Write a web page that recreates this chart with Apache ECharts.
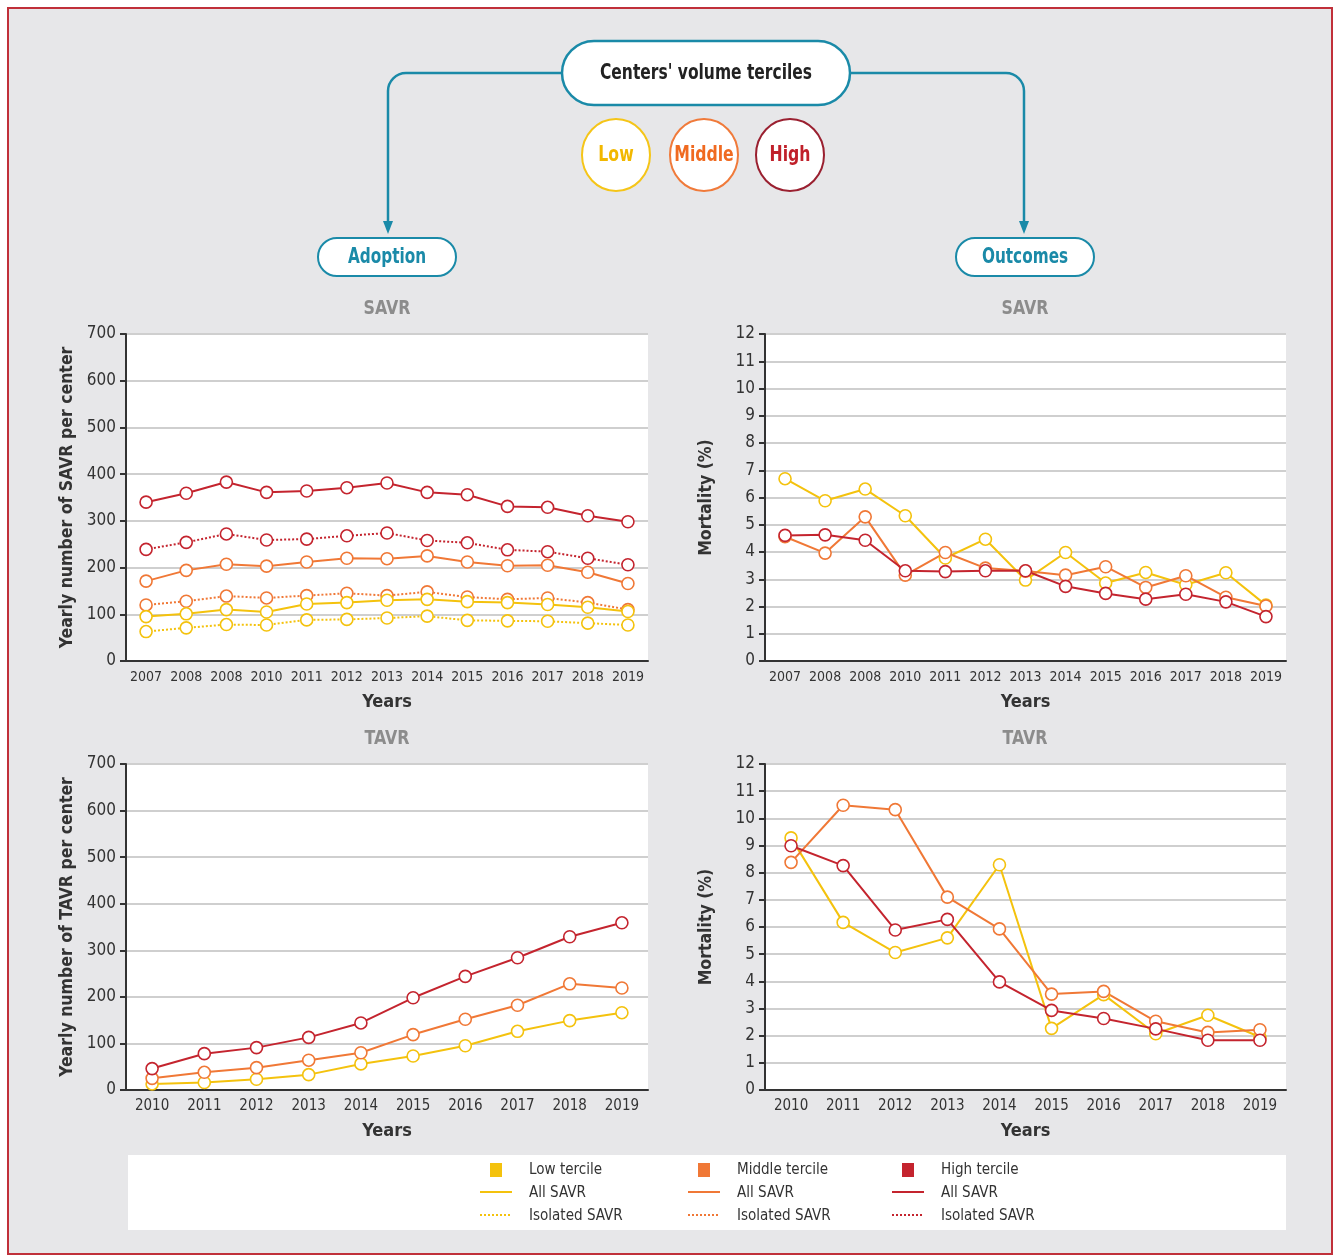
<!DOCTYPE html>
<html>
<head>
<meta charset="utf-8">
<script src="https://cdn.jsdelivr.net/npm/echarts@6/dist/echarts.min.js"></script>
<style>
  html, body { margin: 0; padding: 0; background: #fff; }
  #chart { width: 1337px; height: 1260px; }
</style>
</head>
<body>
<div id="chart"></div>
<script>
// categories
var savrYears = ['2007', '2008', '2008', '2010', '2011', '2012', '2013', '2014', '2015', '2016', '2017', '2018', '2019'];
var tavrYears = ['2010', '2011', '2012', '2013', '2014', '2015', '2016', '2017', '2018', '2019'];

// SAVR adoption (yearly number per center)
var savrAllLow   = [95, 101, 110, 105, 122, 125, 130, 132, 127, 125, 121, 115, 106];
var savrAllMid   = [171, 194, 207, 203, 212, 220, 219, 225, 212, 204, 205, 190, 166];
var savrAllHigh  = [340, 359, 383, 361, 364, 371, 381, 361, 356, 331, 329, 311, 298];
var savrIsoLow   = [63, 71, 78, 77, 88, 89, 92, 96, 87, 86, 85, 81, 77];
var savrIsoMid   = [120, 128, 139, 135, 140, 145, 140, 148, 137, 132, 135, 125, 110];
var savrIsoHigh  = [239, 254, 272, 259, 261, 268, 274, 258, 253, 238, 234, 220, 206];

// SAVR outcomes (mortality %)
var savrMortLow  = [6.69, 5.88, 6.31, 5.33, 3.78, 4.47, 2.97, 3.98, 2.86, 3.25, 2.80, 3.24, 2.05];
var savrMortMid  = [4.56, 3.96, 5.29, 3.15, 3.98, 3.41, 3.30, 3.15, 3.46, 2.70, 3.13, 2.34, 2.02];
var savrMortHigh = [4.61, 4.63, 4.43, 3.31, 3.28, 3.31, 3.31, 2.74, 2.48, 2.27, 2.45, 2.17, 1.63];

// TAVR adoption
var tavrLow  = [13, 16, 23, 33, 56, 73, 95, 126, 149, 166];
var tavrMid  = [25, 38, 48, 64, 80, 119, 152, 182, 228, 219];
var tavrHigh = [46, 78, 91, 113, 144, 198, 244, 284, 329, 359];

// TAVR outcomes
var tavrMortLow  = [9.28, 6.17, 5.06, 5.60, 8.29, 2.27, 3.51, 2.07, 2.75, 1.95];
var tavrMortMid  = [8.38, 10.48, 10.32, 7.10, 5.93, 3.53, 3.63, 2.53, 2.12, 2.22];
var tavrMortHigh = [8.99, 8.26, 5.89, 6.28, 3.98, 2.93, 2.63, 2.25, 1.83, 1.83];

var tercileNames = ['Low tercile', 'Middle tercile', 'High tercile'];
var colors = ['#f4c20d', '#f07836', '#c4242e'];

var FONT = "'DejaVu Sans Condensed', 'Liberation Sans', sans-serif";
var TEAL = '#1a8aa8';

var grids = [
  { left: 126, top: 334, width: 522, height: 327 },
  { left: 765, top: 334, width: 521, height: 327 },
  { left: 126, top: 764, width: 522, height: 326 },
  { left: 765, top: 764, width: 521, height: 326 }
];

function xAxisFor(gi, cats, fs) {
  return {
    type: 'category', gridIndex: gi, data: cats,
    name: 'Years', nameLocation: 'middle', nameGap: 32,
    nameTextStyle: { fontFamily: FONT, fontWeight: 'bold', fontSize: 18, color: '#333' },
    axisLine: { lineStyle: { color: '#333', width: 2 } },
    axisTick: { length: 6, lineStyle: { color: '#333', width: 2 } },
    axisLabel: { interval: 0, fontFamily: FONT, fontSize: fs, color: '#333', margin: 9 },
    splitLine: { show: false }
  };
}
function yAxisFor(gi, max, interval, name) {
  return {
    type: 'value', gridIndex: gi, min: 0, max: max, interval: interval,
    name: name, nameLocation: 'middle', nameGap: 50, nameRotate: 90,
    nameTextStyle: { fontFamily: FONT, fontWeight: 'bold', fontSize: 17.5, color: '#333' },
    axisLine: { show: true, lineStyle: { color: '#333', width: 2 } },
    axisTick: { show: true, length: 6, lineStyle: { color: '#333', width: 2 } },
    axisLabel: { fontFamily: FONT, fontSize: 17, color: '#333', margin: 10 },
    splitLine: { lineStyle: { color: '#cfcfcf', width: 2 } }
  };
}
function line(gi, data, ci, dotted) {
  return {
    type: 'line', xAxisIndex: gi, yAxisIndex: gi, data: data,
    symbol: 'circle', symbolSize: 12, showAllSymbol: true,
    lineStyle: { color: colors[ci], width: 2, type: dotted ? 'dotted' : 'solid' },
    itemStyle: { color: '#fff', borderColor: colors[ci], borderWidth: 1.6 },
    z: dotted ? 2 : 3
  };
}
function label(x, y, txt, fs, color, sx) {
  return { type: 'text', x: x, y: y, scaleX: sx, style: { text: txt, fontFamily: FONT, fontWeight: 'bold', fontSize: fs, fill: color, align: 'center', verticalAlign: 'middle' } };
}

var graphics = [
  // frame
  { type: 'rect', shape: { x: 8, y: 8, width: 1324, height: 1246 }, style: { fill: '#e7e7e9', stroke: '#c0303a', lineWidth: 2 }, z: -10 },
  // connectors
  { type: 'polyline', shape: { points: [[562, 73], [406, 73]] }, style: { fill: null, stroke: TEAL, lineWidth: 2.5 } },
  { type: 'arc', shape: { cx: 406, cy: 91, r: 18, startAngle: Math.PI, endAngle: Math.PI * 1.5 }, style: { fill: null, stroke: TEAL, lineWidth: 2.5 } },
  { type: 'polyline', shape: { points: [[388, 91], [388, 224]] }, style: { fill: null, stroke: TEAL, lineWidth: 2.5 } },
  { type: 'polyline', shape: { points: [[850, 73], [1006, 73]] }, style: { fill: null, stroke: TEAL, lineWidth: 2.5 } },
  { type: 'arc', shape: { cx: 1006, cy: 91, r: 18, startAngle: Math.PI * 1.5, endAngle: Math.PI * 2 }, style: { fill: null, stroke: TEAL, lineWidth: 2.5 } },
  { type: 'polyline', shape: { points: [[1024, 91], [1024, 224]] }, style: { fill: null, stroke: TEAL, lineWidth: 2.5 } },
  { type: 'polygon', shape: { points: [[383, 221], [393, 221], [388, 234]] }, style: { fill: TEAL } },
  { type: 'polygon', shape: { points: [[1019, 221], [1029, 221], [1024, 234]] }, style: { fill: TEAL } },
  // main pill
  { type: 'rect', shape: { x: 562, y: 41, width: 288, height: 64, r: 32 }, style: { fill: '#fff', stroke: TEAL, lineWidth: 2.5 } },
  label(706, 74, "Centers' volume terciles", 21, '#222', 0.82),
  // terciles
  { type: 'ellipse', shape: { cx: 616, cy: 155, rx: 34, ry: 36 }, style: { fill: '#fff', stroke: '#f5c518', lineWidth: 2 } },
  label(616, 156, 'Low', 21, '#f2b800', 0.83),
  { type: 'ellipse', shape: { cx: 704, cy: 155, rx: 34, ry: 36 }, style: { fill: '#fff', stroke: '#f07a3a', lineWidth: 2 } },
  label(704, 156, 'Middle', 21, '#f06a20', 0.83),
  { type: 'ellipse', shape: { cx: 790, cy: 155, rx: 34, ry: 36 }, style: { fill: '#fff', stroke: '#9a2030', lineWidth: 2 } },
  label(790, 156, 'High', 21, '#c0202a', 0.83),
  // sub pills
  { type: 'rect', shape: { x: 318, y: 238, width: 138, height: 38, r: 19 }, style: { fill: '#fff', stroke: TEAL, lineWidth: 2 } },
  label(387, 258, 'Adoption', 21, TEAL, 0.81),
  { type: 'rect', shape: { x: 956, y: 238, width: 138, height: 38, r: 19 }, style: { fill: '#fff', stroke: TEAL, lineWidth: 2 } },
  label(1025, 258, 'Outcomes', 21, TEAL, 0.81),
  // legend box
  { type: 'rect', shape: { x: 128, y: 1155, width: 1158, height: 75 }, style: { fill: '#fff' }, z: -5 }
];

// panel titles
[[387, 309, 'SAVR'], [1025, 309, 'SAVR'], [387, 739, 'TAVR'], [1025, 739, 'TAVR']].forEach(function (t) {
  graphics.push(label(t[0], t[1], t[2], 20, '#8c8c8c', 0.88));
});

// legend entries
var legendX = [496, 704, 908];
tercileNames.forEach(function (name, i) {
  var x = legendX[i];
  graphics.push({ type: 'rect', shape: { x: x - 6, y: 1163, width: 12, height: 14 }, style: { fill: colors[i] } });
  graphics.push({ type: 'line', shape: { x1: x - 16, y1: 1192, x2: x + 16, y2: 1192 }, style: { stroke: colors[i], lineWidth: 2 } });
  graphics.push({ type: 'line', shape: { x1: x - 16, y1: 1215, x2: x + 16, y2: 1215 }, style: { stroke: colors[i], lineWidth: 2, lineDash: [2, 2] } });
  [name, 'All SAVR', 'Isolated SAVR'].forEach(function (txt, r) {
    graphics.push({ type: 'text', x: x + 33, y: 1170 + r * 23, scaleX: 0.94, style: { text: txt, fontFamily: FONT, fontSize: 16, fill: '#333', verticalAlign: 'middle' } });
  });
});

var option = {
  backgroundColor: '#ffffff',
  animation: false,
  grid: grids.map(function (g) {
    return Object.assign({ show: true, backgroundColor: '#ffffff', borderWidth: 0 }, g);
  }),
  xAxis: [xAxisFor(0, savrYears, 14), xAxisFor(1, savrYears, 14), xAxisFor(2, tavrYears, 15), xAxisFor(3, tavrYears, 15)],
  yAxis: [
    yAxisFor(0, 700, 100, 'Yearly number of SAVR per center'),
    yAxisFor(1, 12, 1, 'Mortality (%)'),
    yAxisFor(2, 700, 100, 'Yearly number of TAVR per center'),
    yAxisFor(3, 12, 1, 'Mortality (%)')
  ],
  series: [
    line(0, savrIsoLow, 0, true), line(0, savrIsoMid, 1, true), line(0, savrIsoHigh, 2, true),
    line(0, savrAllLow, 0), line(0, savrAllMid, 1), line(0, savrAllHigh, 2),
    line(1, savrMortLow, 0), line(1, savrMortMid, 1), line(1, savrMortHigh, 2),
    line(2, tavrLow, 0), line(2, tavrMid, 1), line(2, tavrHigh, 2),
    line(3, tavrMortLow, 0), line(3, tavrMortMid, 1), line(3, tavrMortHigh, 2)
  ],
  graphic: graphics
};

var chart = echarts.init(document.getElementById('chart'));
chart.setOption(option);
</script>
</body>
</html>
